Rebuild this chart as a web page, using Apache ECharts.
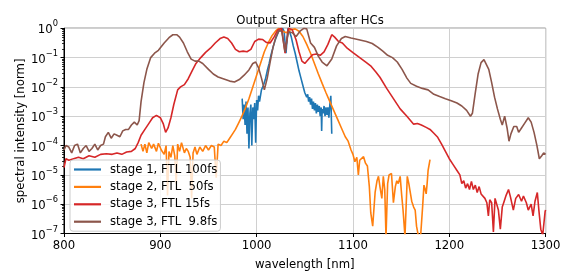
<!DOCTYPE html>
<html>
<head>
<meta charset="utf-8">
<script src="https://cdn.jsdelivr.net/npm/echarts@6/dist/echarts.min.js"></script>
<style>
html,body{margin:0;padding:0;background:#fff;}
#chart{width:573px;height:276px;}
</style>
</head>
<body>
<div id="chart"></div>
<script>
// ---- data (wavelength [nm], normalised spectral intensity) ----
const seriesNames = ['stage 1, FTL 100fs', 'stage 2, FTL  50fs', 'stage 3, FTL 15fs', 'stage 3, FTL  9.8fs'];
const seriesColors = ['#1f77b4', '#ff7f0e', '#d62728', '#8c564b'];

const xTicks = [800, 900, 1000, 1100, 1200, 1300];
const yMajorTicks = [1e-7, 1e-6, 1e-5, 1e-4, 1e-3, 1e-2, 1e-1, 1];
const yMinorTicks = [
  2e-7,3e-7,4e-7,5e-7,6e-7,7e-7,8e-7,9e-7,
  2e-6,3e-6,4e-6,5e-6,6e-6,7e-6,8e-6,9e-6,
  2e-5,3e-5,4e-5,5e-5,6e-5,7e-5,8e-5,9e-5,
  2e-4,3e-4,4e-4,5e-4,6e-4,7e-4,8e-4,9e-4,
  2e-3,3e-3,4e-3,5e-3,6e-3,7e-3,8e-3,9e-3,
  2e-2,3e-2,4e-2,5e-2,6e-2,7e-2,8e-2,9e-2,
  0.2,0.3,0.4,0.5,0.6,0.7,0.8,0.9
];

const stage1 = [
  [985,3.98e-3],[986,7.94e-4],[987,2.51e-3],[988,5.01e-4],[989,3.16e-3],[990,2.51e-4],
  [991,2.0e-3],[992,7.94e-5],[993,1.26e-3],[994,2.51e-3],[995,1.0e-4],[996,2.0e-3],
  [997,7.94e-4],[998,2.82e-3],[999,1.26e-4],[1000,3.55e-3],[1001,1.58e-3],[1002,5.01e-3],
  [1003,3.16e-3],[1005,7.94e-3],[1007,1.12e-2],[1009,1.78e-2],[1011,3.55e-2],[1013,6.31e-2],
  [1015,1.26e-1],[1017,2.24e-1],[1019,3.80e-1],[1021,5.62e-1],[1023,7.94e-1],[1025,8.91e-1],
  [1027,1.0],[1028.5,7.94e-1],[1030.5,1.41e-1],[1032.5,1.0],[1034,7.94e-1],[1036,5.01e-1],
  [1038,2.51e-1],[1040,1.41e-1],[1042,7.08e-2],[1044,3.55e-2],[1046,2.0e-2],[1048,1.12e-2],
  [1050,6.31e-3],[1052,4.47e-3],[1053,5.62e-3],[1054,3.16e-3],[1055,4.47e-3],[1056,2.51e-3],
  [1057,3.98e-3],[1058,1.78e-3],[1059,3.16e-3],[1060,1.58e-3],[1061,2.82e-3],[1062,1.26e-3],
  [1063,2.51e-3],[1064,1.41e-3],[1065,2.24e-3],[1066,1.0e-3],[1067,2.0e-3],[1067.5,3.16e-4],
  [1068,1.78e-3],[1069,1.26e-3],[1070,2.24e-3],[1071,1.0e-3],[1072,2.0e-3],[1073,1.12e-3],
  [1074,2.0e-3],[1075,8.91e-4],[1076,2.51e-3],[1077,5.01e-3],[1078,2.51e-4]
];

const stage2 = [
  [880,1.12e-4],[882,6.31e-5],[884,1.12e-4],[886,5.62e-5],[888,1.26e-4],[891,7.94e-5],
  [893,1.12e-4],[896,6.31e-5],[898,1.20e-4],[901,7.08e-5],[904,5.01e-5],[906,1.0e-4],
  [907.5,2.0e-6],[909,6.31e-5],[911,3.98e-5],[913,1.0e-4],[915,4.47e-5],[916.5,5.01e-6],
  [918,1.12e-4],[920,6.31e-5],[922,1.26e-4],[925,5.62e-5],[927,7.94e-5],[929,6.31e-5],
  [931,3.98e-5],[932.5,1.58e-6],[934,5.62e-5],[936,8.91e-5],[938,5.01e-5],[941,8.91e-5],
  [944,6.31e-5],[947,1.0e-4],[950,7.08e-5],[953,1.0e-4],[956,8.91e-5],[958,7.94e-6],
  [960,1.12e-4],[963,1.0e-4],[966,1.41e-4],[969,1.26e-4],[972,1.78e-4],[975,2.51e-4],
  [978,3.55e-4],[981,5.62e-4],[984,8.91e-4],[988,1.78e-3],[992,3.98e-3],[996,1.0e-2],
  [1000,2.51e-2],[1004,6.31e-2],[1008,1.58e-1],[1012,3.16e-1],[1016,5.62e-1],[1020,8.32e-1],
  [1023,1.0],[1027,7.94e-1],[1031,7.08e-1],[1035,8.91e-1],[1040,9.55e-1],[1044,7.94e-1],
  [1048,5.25e-1],[1052,2.82e-1],[1056,1.41e-1],[1060,6.31e-2],[1064,2.82e-2],[1068,1.32e-2],
  [1072,6.31e-3],[1076,3.16e-3],[1080,1.58e-3],[1084,7.94e-4],[1088,3.98e-4],[1092,2.0e-4],
  [1095,1.41e-4],[1098,7.08e-5],[1100,5.01e-5],[1102,2.82e-5],[1104,3.98e-5],[1105.6,1.0e-5],
  [1107,3.16e-5],[1109,3.55e-5],[1111,4.17e-5],[1113,2.51e-5],[1115,2.0e-5],[1117,3.98e-6],
  [1118.5,5.01e-7],[1120.5,1.78e-7],[1123,2.51e-6],[1125,6.31e-6],[1126.5,8.91e-6],[1128,3.98e-6],
  [1130,1.58e-6],[1131.5,8.91e-6],[1133,3.16e-6],[1134.3,7.94e-8],[1136,5.01e-6],[1137.5,1.0e-5],
  [1140,1.12e-5],[1142,1.12e-6],[1144,3.98e-6],[1145.5,6.31e-6],[1147,5.01e-6],[1149,8.91e-6],
  [1150.6,2.0e-6],[1152,6.31e-7],[1154,7.94e-8],[1156.4,8.91e-6],[1158,5.01e-6],[1159.5,2.51e-6],
  [1161,1.26e-6],[1163,7.94e-7],[1164.6,6.31e-7],[1166,1.78e-7],[1168,7.94e-8],[1170,6.31e-8],
  [1172.4,8.91e-7],[1173.7,4.47e-6],[1175,3.16e-6],[1176,2.24e-6],[1177,5.01e-6],[1178,1.41e-5],
  [1180,3.31e-5]
];

const stage3a = [
  [800,1.78e-5],[802,3.55e-5],[805,3.16e-5],[810,3.55e-5],[815,3.98e-5],[820,3.55e-5],
  [826,4.47e-5],[832,3.98e-5],[838,5.01e-5],[844,5.25e-5],[850,5.01e-5],[855,5.62e-5],
  [860,5.01e-5],[865,6.03e-5],[870,6.31e-5],[874,7.94e-5],[877,1.26e-4],[880,2.24e-4],
  [884,3.55e-4],[888,5.62e-4],[892,8.91e-4],[896,1.07e-3],[900,8.91e-4],[903,5.62e-4],
  [905.5,2.82e-4],[908,3.98e-4],[911,8.91e-4],[914,2.51e-3],[918,7.94e-3],[921,1.0e-2],
  [925,1.20e-2],[929,1.91e-2],[933,3.55e-2],[937,6.31e-2],[942,1.0e-1],[947,1.51e-1],
  [952,2.09e-1],[957,3.16e-1],[962,4.47e-1],[966,5.01e-1],[970,4.47e-1],[974,3.16e-1],
  [978,1.91e-1],[982,1.58e-1],[986,1.66e-1],[990,1.58e-1],[994,1.91e-1],[998,3.55e-1],
  [1002,4.27e-1],[1006,4.17e-1],[1010,3.31e-1],[1014,3.16e-1],[1018,5.01e-1],[1022,8.91e-1],
  [1026,1.0],[1029.5,1.41e-1],[1033,1.0],[1037,8.91e-1],[1041,3.98e-1],[1044,1.58e-1],
  [1047,7.59e-2],[1050,6.31e-2],[1054,8.91e-2],[1058,1.26e-1],[1062,1.32e-1],[1066,1.20e-1],
  [1070,1.58e-1],[1074,2.82e-1],[1078,6.03e-1],[1081,5.01e-1],[1085,3.55e-1],[1089,3.16e-1],
  [1094,2.09e-1],[1100,1.48e-1],[1107,1.0e-1],[1114,6.76e-2],[1119,5.01e-2],[1124,3.16e-2],
  [1128,2.14e-2],[1135,8.91e-3],[1142,3.98e-3],[1149,1.78e-3],[1156,1.0e-3],[1163,5.37e-4],
  [1167,5.62e-4],[1171,5.01e-4],[1176,4.17e-4],[1180,3.55e-4],[1184,2.63e-4],[1188,1.91e-4],
  [1192,1.12e-4],[1196,6.31e-5],[1200,3.55e-5],[1204,2.24e-5],[1208,1.41e-5],[1211,1.0e-5],
  [1213,5.01e-6],[1215,6.31e-6],[1217,3.55e-6],[1219,5.01e-6],[1221,3.16e-6],[1223,6.03e-6],
  [1225,3.16e-6],[1227,4.47e-6],[1229,2.51e-6],[1231,3.98e-6],[1233,2.24e-6],[1235,2.51e-6],
  [1237,1.58e-6],[1239,1.12e-6],[1240.6,3.98e-7],[1242,1.41e-6],[1244,1.12e-6],[1245.8,1.12e-7],
  [1247.5,1.58e-6],[1249,1.66e-6],[1251,6.31e-7],[1253,1.41e-7],[1255,7.94e-7],[1256.5,1.12e-6],
  [1259,2.0e-6],[1261.5,3.16e-6],[1263.5,1.78e-6],[1266.5,6.31e-7],[1269,1.58e-6],[1272,2.14e-6],
  [1275,1.26e-6],[1277,1.91e-6],[1280,1.12e-6],[1282,6.31e-7],[1285,1.0e-6],[1287,3.98e-7],
  [1289,1.26e-6],[1291.4,2.51e-6],[1293,6.31e-7],[1295,1.41e-7],[1297,8.91e-8],[1299.5,5.62e-7],
  [1300,6.31e-7]
];

const stage3b = [
  [800,7.08e-5],[802,1.0e-4],[805,8.91e-5],[808,5.62e-5],[811,1.0e-4],[814,1.12e-4],
  [817,5.62e-5],[820,7.94e-5],[823,1.0e-4],[826,6.31e-5],[829,7.94e-5],[832,1.12e-4],
  [835,7.08e-5],[838,1.0e-4],[841,1.12e-4],[843,2.0e-4],[846,2.82e-4],[849,1.78e-4],
  [852,2.51e-4],[855,2.24e-4],[858,2.0e-4],[861,3.16e-4],[864,3.55e-4],[867,3.55e-4],
  [870,5.01e-4],[873,6.31e-4],[876,5.01e-4],[878,7.08e-4],[880,3.16e-3],[883,1.41e-2],
  [886,3.98e-2],[890,1.0e-1],[894,1.41e-1],[898,1.78e-1],[904,3.16e-1],[909,4.79e-1],
  [913,6.03e-1],[917,6.03e-1],[920,5.01e-1],[924,3.16e-1],[928,1.58e-1],[932,8.91e-2],
  [936,7.59e-2],[940,7.59e-2],[944,6.31e-2],[950,3.98e-2],[955,2.75e-2],[960,2.19e-2],
  [966,1.86e-2],[972,1.58e-2],[977,1.48e-2],[982,1.78e-2],[987,2.51e-2],[992,3.80e-2],
  [996,6.31e-2],[999,7.08e-2],[1002,4.47e-2],[1005,2.0e-2],[1008,7.94e-3],[1011,2.0e-2],
  [1014,7.08e-2],[1017,2.24e-1],[1020,5.01e-1],[1023,8.32e-1],[1026,7.94e-1],[1029.5,1.58e-1],
  [1033,7.59e-1],[1037,7.08e-1],[1041,5.25e-1],[1045,7.94e-1],[1049,1.0],[1052,9.55e-1],
  [1056,3.16e-1],[1060,2.24e-1],[1064,1.12e-1],[1068,7.08e-2],[1073,5.25e-2],[1078,8.91e-2],
  [1083,2.51e-1],[1088,4.47e-1],[1092,5.25e-1],[1098,4.68e-1],[1105,4.17e-1],[1114,3.55e-1],
  [1120,3.02e-1],[1126,2.24e-1],[1131,1.66e-1],[1136,1.20e-1],[1141,1.0e-1],[1146,7.08e-2],
  [1151,3.98e-2],[1156,2.0e-2],[1160,1.32e-2],[1166,1.05e-2],[1172,8.91e-3],[1178,7.94e-3],
  [1184,5.62e-3],[1190,4.68e-3],[1196,3.98e-3],[1202,3.39e-3],[1208,2.82e-3],[1213,2.24e-3],
  [1218,1.58e-3],[1222,1.0e-3],[1224,1.26e-3],[1227,6.31e-3],[1230,2.82e-2],[1233,6.76e-2],
  [1236,8.51e-2],[1238,7.94e-2],[1241,3.98e-2],[1244,1.41e-2],[1247,4.47e-3],[1250,1.78e-3],
  [1253,7.94e-4],[1255,5.01e-4],[1257.5,1.0e-3],[1260,3.98e-4],[1262,1.41e-4],[1264,2.51e-4],
  [1267,4.47e-4],[1270,4.47e-4],[1272,2.82e-4],[1275,3.98e-4],[1278,5.62e-4],[1282,8.91e-4],
  [1285,6.31e-4],[1288,2.82e-4],[1291,1.0e-4],[1293.5,3.55e-5],[1296,4.47e-5],[1298,5.62e-5],
  [1300,5.01e-5]
];

const allSeries = [stage1, stage2, stage3a, stage3b];

// ---- chart ----
const chart = echarts.init(document.getElementById('chart'), null, {renderer: 'canvas'});
const FONT = 'DejaVu Sans';
const FS = 11.7;

function expLabel(v) {
  const e = Math.round(Math.log10(v));
  const s = e === 0 ? '0' : '\u2212' + (-e);
  return '{b|10}{s|' + s + '}';
}

const option = {
  animation: false,
  backgroundColor: '#ffffff',
  textStyle: {fontFamily: FONT},
  title: {
    text: 'Output Spectra after HCs',
    left: 305, top: 10, textAlign: 'center',
    textStyle: {fontFamily: FONT, fontSize: FS, fontWeight: 'normal', color: '#000'}
  },
  grid: {
    left: 64, right: 27.4, top: 28.3, bottom: 37.7,
    show: true, borderColor: '#000', borderWidth: 1, backgroundColor: 'transparent'
  },
  legend: {
    orient: 'vertical',
    left: 70, top: 160,
    padding: [3, 3, 3, 4],
    itemGap: 4.4,
    itemWidth: 27, itemHeight: 2.2,
    icon: 'rect',
    backgroundColor: 'rgba(255,255,255,0.8)',
    borderColor: '#cccccc', borderWidth: 1, borderRadius: 3,
    textStyle: {fontFamily: FONT, fontSize: FS, color: '#000', lineHeight: 13, padding: [0, 0, 0, 4]},
    data: seriesNames
  },
  xAxis: {
    type: 'value',
    min: xTicks[0], max: xTicks[xTicks.length - 1], interval: 100,
    name: 'wavelength [nm]', nameLocation: 'middle', nameGap: 25.5, nameMoveOverlap: false,
    nameTextStyle: {fontFamily: FONT, fontSize: FS, color: '#000'},
    axisLine: {show: true, lineStyle: {color: '#000', width: 1}},
    axisTick: {show: true, inside: false, length: 3.5, lineStyle: {color: '#000'}},
    axisLabel: {fontFamily: FONT, fontSize: FS, color: '#000', margin: 6, formatter: v => String(v)},
    splitLine: {show: true, lineStyle: {color: '#d0d0d0', width: 1}}
  },
  yAxis: [{
    type: 'log', logBase: 10,
    min: yMajorTicks[0], max: yMajorTicks[yMajorTicks.length - 1],
    splitNumber: 7,
    name: 'spectral intensity [norm]', nameLocation: 'middle', nameGap: 37, nameMoveOverlap: false,
    nameRotate: 90,
    nameTextStyle: {fontFamily: FONT, fontSize: FS, color: '#000'},
    axisLine: {show: true, lineStyle: {color: '#000', width: 1}},
    axisTick: {show: true, inside: false, length: 3.5, lineStyle: {color: '#000'}},
    axisLabel: {
      margin: 6, color: '#000',
      formatter: expLabel,
      rich: {
        b: {fontFamily: FONT, fontSize: FS, color: '#000', lineHeight: 16, verticalAlign: 'bottom'},
        s: {fontFamily: FONT, fontSize: 8.3, color: '#000', lineHeight: 16, verticalAlign: 'top', padding: [0, 0, 6, 0]}
      }
    },
    splitLine: {show: true, lineStyle: {color: '#d0d0d0', width: 1}}
  }, {
    type: 'log', logBase: 10,
    min: yMajorTicks[0], max: yMajorTicks[yMajorTicks.length - 1],
    position: 'left',
    axisLine: {show: false},
    axisLabel: {show: false},
    splitLine: {show: false},
    axisTick: {show: true, inside: false, length: 2, customValues: yMinorTicks, lineStyle: {color: '#000', width: 0.8}}
  }],
  series: allSeries.map((d, i) => ({
    name: seriesNames[i],
    type: 'line',
    data: d,
    yAxisIndex: 0,
    showSymbol: false,
    symbol: 'none',
    clip: true,
    lineStyle: {color: seriesColors[i], width: 1.6},
    itemStyle: {color: seriesColors[i]},
    emphasis: {disabled: true}
  }))
};
chart.setOption(option);
</script>
</body>
</html>
